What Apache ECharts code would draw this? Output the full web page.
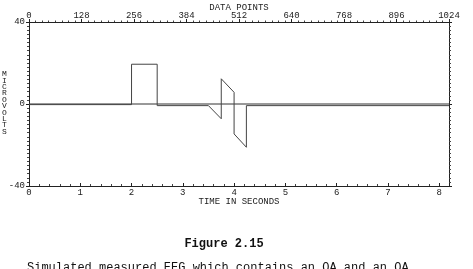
<!DOCTYPE html>
<html>
<head>
<meta charset="utf-8">
<script src="https://cdn.jsdelivr.net/npm/echarts@6/dist/echarts.min.js"></script>
<style>
html,body{margin:0;padding:0;background:#fff;}
#c{width:473px;height:269px;}
</style>
</head>
<body>
<div id="c"></div>
<script>
// signal (time in seconds, microvolts)
var times  = [0, 2.0, 2.0, 2.5, 2.5, 3.50, 3.75, 3.75, 4.0, 4.0, 4.24, 4.24, 8.192];
var values = [-0.3, -0.3, 19.4, 19.4, -0.8, -0.8, -7.2, 12.3, 5.7, -14.6, -21.1, -0.8, -0.8];
// zero reference line
var zeroTimes = [0, 8.192];
var zeroValues = [0, 0];
var timeTicks = ['0','1','2','3','4','5','6','7','8'];
var pointTicks = ['0','128','256','384','512','640','768','896','1024'];
var yTicks = ['-40','0','40'];

function pairs(xs, ys){ return xs.map(function(x,i){ return [x, ys[i]]; }); }

var FONT = 'Liberation Mono';
var ink = '#222';
var chart = echarts.init(document.getElementById('c'), null, {renderer:'canvas'});
chart.setOption({
  animation:false,
  backgroundColor:'#fff',
  grid:{left:29, top:22, width:420, height:164, containLabel:false, outerBoundsMode:'none'},
  xAxis:[{
    type:'value', position:'bottom', min:0, max:8.192, interval:1,
    name:'TIME IN SECONDS', nameLocation:'middle', nameGap:11.5, nameMoveOverlap:false,
    nameTextStyle:{fontFamily:FONT, fontSize:9, color:ink},
    axisLine:{onZero:false, lineStyle:{color:ink, width:1}},
    axisTick:{inside:true, length:3, lineStyle:{color:ink}},
    minorTick:{show:true, splitNumber:5, length:2, lineStyle:{color:'#444'}},
    splitLine:{show:false},
    axisLabel:{fontFamily:FONT, fontSize:9, color:ink, margin:2.5, showMaxLabel:false,
      formatter:function(v){ var i=Math.round(v); return Math.abs(v-i)<1e-6 ? timeTicks[i] : ''; }}
  },{
    type:'value', position:'top', min:0, max:1024, interval:128,
    name:'DATA POINTS', nameLocation:'middle', nameGap:10, nameMoveOverlap:false,
    nameTextStyle:{fontFamily:FONT, fontSize:9, color:ink},
    axisLine:{onZero:false, lineStyle:{color:ink, width:1}},
    axisTick:{inside:false, length:3, lineStyle:{color:ink}},
    minorTick:{show:true, splitNumber:8, length:1.5, lineStyle:{color:'#444'}},
    splitLine:{show:false},
    axisLabel:{fontFamily:FONT, fontSize:9, color:ink, margin:2,
      formatter:function(v){ return pointTicks[Math.round(v/128)]; }}
  }],
  yAxis:[{
    type:'value', position:'left', min:-40, max:40, interval:40,
    axisLine:{onZero:false, lineStyle:{color:ink, width:1}},
    axisTick:{inside:false, length:3, lineStyle:{color:ink}},
    minorTick:{show:true, splitNumber:20, length:2, lineStyle:{color:'#444'}},
    splitLine:{show:false},
    axisLabel:{fontFamily:FONT, fontSize:9, color:ink, margin:4,
      formatter:function(v){ return yTicks[Math.round(v/40)+1]; }}
  },{
    type:'value', position:'right', min:-40, max:40, interval:40,
    axisLine:{show:true, onZero:false, lineStyle:{color:ink, width:1}},
    axisTick:{inside:false, length:3, lineStyle:{color:ink}},
    minorTick:{show:true, splitNumber:20, length:2, lineStyle:{color:'#444'}},
    splitLine:{show:false},
    axisLabel:{show:false}
  }],
  series:[{
    type:'line', xAxisIndex:0, yAxisIndex:0, data:pairs(zeroTimes, zeroValues),
    symbol:'none', lineStyle:{color:'#333', width:1}
  },{
    type:'line', xAxisIndex:0, yAxisIndex:0, data:pairs(times, values),
    symbol:'none', lineStyle:{color:'#444', width:1}
  }],
  graphic:[{
    type:'text', left:2, top:70,
    style:{text:'M\nI\nC\nR\nO\nV\nO\nL\nT\nS', font:'8px "Liberation Mono"', fill:ink, lineHeight:6.4, textAlign:'left'}
  },{
    type:'text', x:224, y:244,
    style:{text:'Figure 2.15', font:'bold 12px "Liberation Mono"', fill:'#111', textAlign:'center', textVerticalAlign:'middle'}
  },{
    type:'text', x:27, y:268,
    style:{text:'Simulated measured EEG which contains an OA and an OA', font:'12px "Liberation Mono"', fill:'#111', textAlign:'left', textVerticalAlign:'middle'}
  }]
});
</script>
</body>
</html>
